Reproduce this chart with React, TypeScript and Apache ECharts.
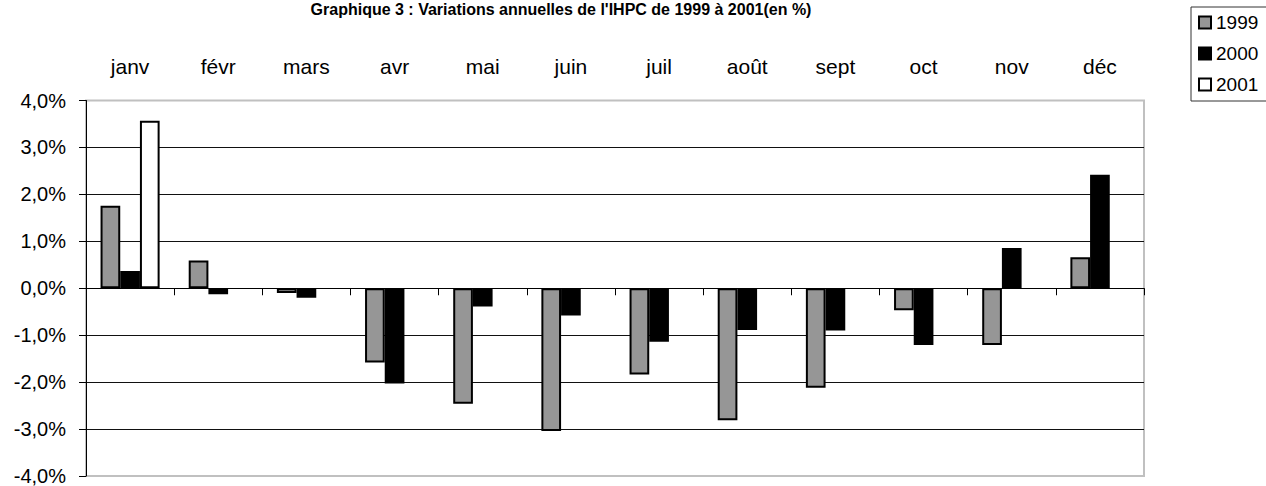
import React, { useEffect, useRef } from "react";
import * as echarts from "echarts";

const months = ["janv", "févr", "mars", "avr", "mai", "juin", "juil", "août", "sept", "oct", "nov", "déc"];
const s1999 = [1.76, 0.59, -0.1, -1.58, -2.46, -3.04, -1.84, -2.81, -2.12, -0.47, -1.21, 0.66];
const s2000 = [0.37, -0.13, -0.2, -2.03, -0.39, -0.58, -1.14, -0.89, -0.9, -1.21, 0.86, 2.42];
const s2001 = [3.57, null, null, null, null, null, null, null, null, null, null, null];
const yTicks = { min: -4, max: 4, interval: 1 };
const titleText = "Graphique 3 : Variations annuelles de l'IHPC de 1999 à 2001(en %)";

const FONT = "'Liberation Sans', Arial, sans-serif";

export default function App() {
  const ref = useRef<HTMLDivElement>(null);
  useEffect(() => {
    document.body.style.margin = "0";
    const chart = echarts.init(ref.current!, undefined, { renderer: "svg" });
    chart.setOption({
      animation: false,
      backgroundColor: "#fff",
      textStyle: { fontFamily: FONT },
      graphic: [
        {
          type: "text",
          x: 561,
          y: 9,
          style: {
            text: titleText,
            fontFamily: FONT,
            fontSize: 16,
            fontWeight: "bold",
            fill: "#000",
            align: "center",
            verticalAlign: "middle",
          },
        },
      ],
      legend: {
        orient: "vertical",
        left: 1191,
        top: 7,
        padding: [6, 20, 7, 7],
        itemWidth: 12,
        itemHeight: 12,
        itemGap: 12,
        borderColor: "#333",
        borderWidth: 1,
        icon: "rect",
        textStyle: { fontSize: 19, color: "#000", fontFamily: FONT, lineHeight: 19 },
        data: ["1999", "2000", "2001"],
      },
      grid: {
        left: 86,
        right: 122,
        top: 100.5,
        bottom: 7.5,
        show: true,
        borderColor: "#c0c0c0",
        borderWidth: 2,
        backgroundColor: "transparent",
      },
      xAxis: [
        {
          type: "category",
          data: months,
          position: "top",
          axisLine: { show: false, onZero: false },
          axisTick: { show: false },
          splitLine: { show: false },
          axisLabel: { fontSize: 21, color: "#000", margin: 24, fontFamily: FONT },
        },
        {
          type: "category",
          data: months,
          position: "bottom",
          axisLine: { show: true, onZero: true, lineStyle: { color: "#000", width: 1 } },
          axisTick: { show: true, length: 7, lineStyle: { color: "#000", width: 1 } },
          axisLabel: { show: false },
          splitLine: { show: false },
        },
      ],
      yAxis: {
        type: "value",
        min: yTicks.min,
        max: yTicks.max,
        interval: yTicks.interval,
        axisLine: { show: true, lineStyle: { color: "#000", width: 1 } },
        axisTick: { show: true, length: 7, lineStyle: { color: "#000", width: 1 } },
        axisLabel: {
          fontSize: 20,
          color: "#000",
          margin: 20,
          fontFamily: FONT,
          formatter: (v: number) => v.toFixed(1).replace(".", ",") + "%",
        },
        splitLine: {
          show: true,
          showMinLine: false,
          showMaxLine: false,
          lineStyle: { color: "#111", width: 1 },
        },
      },
      series: [
        {
          name: "1999",
          type: "bar",
          xAxisIndex: 0,
          data: s1999,
          barGap: "0%",
          barCategoryGap: "33%",
          itemStyle: { color: "#969696", borderColor: "#000", borderWidth: 2 },
        },
        {
          name: "2000",
          type: "bar",
          xAxisIndex: 0,
          data: s2000,
          itemStyle: { color: "#000", borderColor: "#000", borderWidth: 2 },
        },
        {
          name: "2001",
          type: "bar",
          xAxisIndex: 0,
          data: s2001,
          itemStyle: { color: "#fff", borderColor: "#000", borderWidth: 2 },
        },
      ],
    });
    return () => chart.dispose();
  }, []);
  return (
    <div
      ref={ref}
      style={{ position: "fixed", left: 0, top: 0, width: 1266, height: 486 }}
    />
  );
}
